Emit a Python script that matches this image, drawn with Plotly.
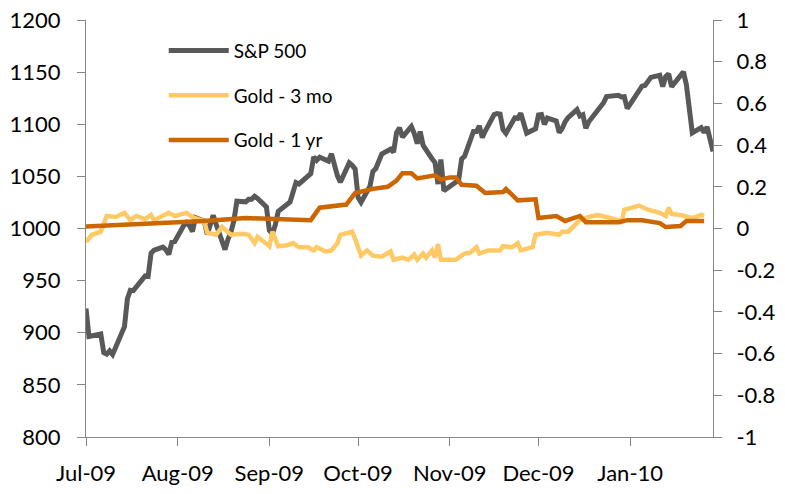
import pandas as pd
import plotly.graph_objects as go

# ---- S&P 500 daily closes (Jul 2009 - Jan 2010) ----
holidays = ["2009-07-03", "2009-09-07", "2009-11-26", "2009-12-25", "2010-01-01", "2010-01-18"]
sp_dates = [d for d in pd.bdate_range("2009-07-01", "2010-01-29") if d.strftime("%Y-%m-%d") not in holidays]

sp500 = [
    923.33, 896.42, 898.72, 881.03, 879.56, 882.68, 879.13, 901.05, 905.84, 932.68, 940.74,
    940.38, 951.13, 954.58, 954.07, 976.29, 979.26, 982.18, 979.62, 975.15, 986.75, 987.48,
    1002.63, 1005.65, 1002.72, 997.08, 1010.48, 1007.10, 994.35, 1005.81, 1012.73, 1004.09,
    979.73, 989.67, 996.46, 1007.37, 1026.13, 1025.57, 1028.00, 1028.12, 1030.98, 1028.93, 1020.62,
    998.04, 994.75, 1003.24, 1016.40, 1025.39, 1033.37, 1044.14, 1042.73, 1049.34, 1052.63,
    1068.76, 1065.49, 1068.30, 1064.66, 1071.66, 1060.87, 1050.78, 1044.38, 1062.98, 1060.61, 1057.08,
    1029.85, 1025.21, 1040.46, 1054.72, 1057.58, 1065.48, 1071.49, 1076.19, 1073.19, 1092.02,
    1096.56, 1087.68, 1097.91, 1091.06, 1081.40, 1092.91, 1079.60, 1066.95, 1063.41, 1042.63,
    1066.11, 1036.19,
    1042.88, 1045.41, 1046.50, 1066.63, 1069.30, 1093.08, 1093.01, 1098.51, 1087.24, 1093.48,
    1109.30, 1110.32, 1109.80, 1094.90, 1091.38, 1106.24, 1105.65, 1110.63, 1091.49, 1095.63,
    1108.86, 1109.24, 1099.92, 1105.98, 1103.25, 1091.94, 1095.95, 1102.35, 1106.41, 1114.11,
    1107.93, 1109.18, 1096.08, 1102.47, 1114.05, 1118.02, 1120.59, 1126.48, 1127.78, 1126.20,
    1126.42, 1115.10,
    1132.99, 1136.52, 1137.14, 1141.69, 1144.98, 1146.98, 1136.22, 1145.68, 1148.46, 1136.03,
    1150.23, 1138.04, 1116.48, 1091.76, 1096.78, 1092.17, 1097.50, 1084.53, 1073.87,
]

# ---- Gold - 3 mo (right axis) ----
g3_dates = [
    "2009-07-01", "2009-07-03", "2009-07-06", "2009-07-08", "2009-07-11", "2009-07-14", "2009-07-16",
    "2009-07-18", "2009-07-21", "2009-07-23", "2009-07-24", "2009-07-29", "2009-07-31", "2009-08-04",
    "2009-08-06", "2009-08-10", "2009-08-11", "2009-08-14", "2009-08-16", "2009-08-19", "2009-08-23",
    "2009-08-25", "2009-08-27", "2009-08-28", "2009-09-01", "2009-09-02", "2009-09-04", "2009-09-07",
    "2009-09-09", "2009-09-11", "2009-09-14", "2009-09-16", "2009-09-17", "2009-09-20", "2009-09-22",
    "2009-09-24", "2009-09-25", "2009-09-29", "2009-09-30", "2009-10-02", "2009-10-04", "2009-10-06",
    "2009-10-09", "2009-10-12", "2009-10-13", "2009-10-16", "2009-10-18", "2009-10-20", "2009-10-21",
    "2009-10-23", "2009-10-24", "2009-10-26", "2009-10-27", "2009-10-28", "2009-10-29", "2009-11-03",
    "2009-11-05", "2009-11-06", "2009-11-08", "2009-11-10", "2009-11-11", "2009-11-14", "2009-11-18",
    "2009-11-19", "2009-11-22", "2009-11-24", "2009-11-25", "2009-11-29", "2009-11-30", "2009-12-04",
    "2009-12-08", "2009-12-09", "2009-12-11", "2009-12-15", "2009-12-18", "2009-12-21", "2009-12-24",
    "2009-12-28", "2009-12-29", "2009-12-30", "2010-01-04", "2010-01-07", "2010-01-11", "2010-01-13",
    "2010-01-14", "2010-01-15", "2010-01-18", "2010-01-22", "2010-01-25", "2010-01-26",
]
gold_3mo = [
    -0.065, -0.030, -0.015, 0.060, 0.055, 0.075, 0.040,
    0.060, 0.045, 0.065, 0.040, 0.075, 0.060, 0.075,
    0.055, 0.035, -0.020, -0.030, 0.008, -0.030, -0.025,
    -0.030, -0.070, -0.040, -0.085, -0.015, -0.085, -0.080,
    -0.070, -0.090, -0.090, -0.105, -0.090, -0.110, -0.105,
    -0.070, -0.030, -0.015, -0.050, -0.130, -0.105, -0.130,
    -0.135, -0.110, -0.150, -0.140, -0.150, -0.125, -0.150,
    -0.120, -0.140, -0.105, -0.140, -0.075, -0.150, -0.150,
    -0.130, -0.120, -0.115, -0.090, -0.120, -0.105, -0.105,
    -0.085, -0.090, -0.070, -0.105, -0.090, -0.030, -0.020,
    -0.030, -0.015, -0.015, 0.040, 0.055, 0.065, 0.055,
    0.040, 0.025, 0.090, 0.110, 0.090, 0.075, 0.060,
    0.100, 0.070, 0.065, 0.050, 0.065, 0.060,
]

# ---- Gold - 1 yr (right axis) ----
g1_dates = [
    "2009-07-01", "2009-07-27", "2009-08-10", "2009-08-24", "2009-09-09", "2009-09-15", "2009-09-18",
    "2009-09-27", "2009-09-30", "2009-10-06", "2009-10-11", "2009-10-14", "2009-10-16", "2009-10-19",
    "2009-10-21", "2009-10-27", "2009-10-29", "2009-11-01", "2009-11-03", "2009-11-05", "2009-11-10",
    "2009-11-13", "2009-11-19", "2009-11-20", "2009-11-24", "2009-11-30", "2009-12-01", "2009-12-07",
    "2009-12-10", "2009-12-15", "2009-12-17", "2009-12-28", "2009-12-31", "2010-01-05", "2010-01-11",
    "2010-01-13", "2010-01-18", "2010-01-20", "2010-01-26",
]
gold_1yr = [
    0.010, 0.025, 0.036, 0.050, 0.045, 0.040, 0.100,
    0.115, 0.170, 0.190, 0.200, 0.230, 0.265, 0.265,
    0.240, 0.255, 0.235, 0.245, 0.245, 0.210, 0.205,
    0.170, 0.175, 0.190, 0.135, 0.140, 0.050, 0.060,
    0.036, 0.060, 0.030, 0.030, 0.040, 0.040, 0.026,
    0.007, 0.012, 0.036, 0.036,
]

# ---- axis ticks ----
left_ticks = [800, 850, 900, 950, 1000, 1050, 1100, 1150, 1200]
right_ticks = [-1, -0.8, -0.6, -0.4, -0.2, 0, 0.2, 0.4, 0.6, 0.8, 1]
right_labels = ["-1", "-0.8", "-0.6", "-0.4", "-0.2", "0", "0.2", "0.4", "0.6", "0.8", "1"]

names = ["S&P 500", "Gold - 3 mo", "Gold - 1 yr"]
colors = ["#595959", "#FFC966", "#CC6600"]

FONT = "Lato"
AX = "#868686"

fig = go.Figure()
fig.add_trace(go.Scatter(x=sp_dates, y=sp500, name=names[0], mode="lines",
                         line=dict(color=colors[0], width=5), legendgroup="a"))
fig.add_trace(go.Scatter(x=g3_dates, y=gold_3mo, name=names[1], mode="lines", yaxis="y2",
                         line=dict(color=colors[1], width=4.5), legendgroup="b"))
fig.add_trace(go.Scatter(x=g1_dates, y=gold_1yr, name=names[2], mode="lines", yaxis="y2",
                         line=dict(color=colors[2], width=4.5), legendgroup="c"))

fig.update_layout(
    width=785, height=494,
    margin=dict(l=86, r=72, t=20, b=57),
    paper_bgcolor="white", plot_bgcolor="white",
    font=dict(family=FONT, size=22, color="#000000"),
    showlegend=True,
    legend=dict(x=0.124, y=0.972, xanchor="left", yanchor="top",
                font=dict(family=FONT, size=19, color="#000000"),
                bgcolor="rgba(0,0,0,0)", tracegroupgap=17, itemwidth=60),
    xaxis=dict(type="date", range=["2009-07-01", "2010-01-29"], automargin=False,
               tick0="2009-07-01", dtick="M1", tickformat="%b-%y",
               showgrid=False, zeroline=False, showline=True, linecolor=AX, linewidth=1,
               ticks="outside", ticklen=8, tickcolor=AX, ticklabelstandoff=9),
    yaxis=dict(range=[800, 1200], tickvals=left_ticks, automargin=False,
               showgrid=False, zeroline=False,
               showline=True, linecolor=AX, linewidth=1,
               ticks="outside", ticklen=8, tickcolor=AX, ticklabelstandoff=12),
    yaxis2=dict(range=[-1, 1], tickvals=right_ticks, ticktext=right_labels, automargin=False,
                overlaying="y", side="right",
                showgrid=False, zeroline=False, showline=True, linecolor=AX, linewidth=1,
                ticks="outside", ticklen=8, tickcolor=AX, ticklabelstandoff=10),
)

fig.write_html("out.html", config={"displayModeBar": False},
               post_script="document.body.style.margin='0';")
